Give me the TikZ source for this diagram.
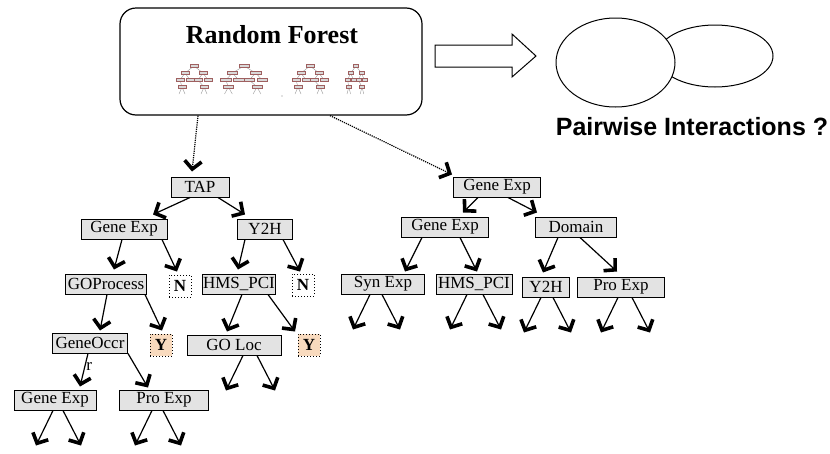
\documentclass[tikz,border=0pt]{standalone}
\usepackage{fontspec}
\newfontfamily\pairfont{Liberation Sans}
\newfontfamily\boxfont{Liberation Serif}
\usetikzlibrary{arrows.meta}
\definecolor{peach}{RGB}{248,218,190}
\tikzset{
    feat/.style ={rectangle, draw, fill=gray!22, line width=1pt, minimum height=20pt, inner sep=1pt, font=\boxfont\fontsize{17}{19}\selectfont},
    leafN/.style ={rectangle, draw, dotted, line width=1pt, minimum width=22pt, minimum height=22pt, inner sep=0pt, font=\boxfont\bfseries\fontsize{17}{19}\selectfont},
    leafY/.style ={leafN, fill=peach},
    branch/.style={line width=1.2pt, -{Straight Barb[length=8pt,width=17pt,line width=3.6pt]}},
    pick/.style={branch, densely dotted},
    mini/.style={gray!80, line width=.4pt},
    minibox/.style={fill=gray!30, draw=red!25!gray, line width=.4pt},
    minitree/.pic={
        \draw[mini] (0,0) -- (-9,7) (0,0) -- (9,7) (-9,7) -- (-14,14) (-9,7) -- (-4,14)
                    (9,7) -- (4,14) (9,7) -- (14,14) (-14,14) -- (-12,21) (4,14) -- (10,21)
                    (-12,21) -- (-15,28) (-12,21) -- (-9,28) (10,21) -- (7,28) (10,21) -- (13,28);
        \foreach \p in {(0,0),(-9,7),(9,7),(-14,14),(-4,14),(4,14),(14,14),(-12,21),(10,21)}
            \filldraw[minibox] \p +(-4,-1.4) rectangle +(4,1.4);
    }
}

\begin{document}
\begin{tikzpicture}[x=1pt,y=-1pt]
    \useasboundingbox (0,0) rectangle (830,453);
    % random forest box
    \node[draw, rounded corners=16pt, line width=1.2pt, minimum width=302pt, minimum height=107pt] (rf) at (271,61.5) {};
    \node[font=\boxfont\bfseries\fontsize{26}{28}\selectfont] (rftitle) at (272,35) {Random Forest};
    \pic at (194,66) {minitree};
    \pic[xscale=1.3] at (244,66) {minitree};
    \pic at (310,66) {minitree};
    \pic[xscale=.6] at (356,66) {minitree};
    \fill[gray] (282,96) circle (.6);
    % big arrow and interactions
    \draw[line width=1pt] (435,45) -- (512,45) -- (512,34) -- (536,56) -- (512,77) -- (512,67) -- (435,67) -- cycle;
    \draw[line width=1pt] (715,56) ellipse [x radius=58, y radius=31];
    \filldraw[fill=white, line width=1pt] (615.5,62.5) ellipse [x radius=59.5, y radius=44.5];
    \node[font=\pairfont\bfseries\fontsize{25}{28}\selectfont] (pair) at (692,127) {Pairwise Interactions ?};
    % first tree
    \node[feat, minimum width=58pt] (tap)   at (200,187) {TAP};
    \node[feat, minimum width=86pt] (ge1)   at (124,229) {Gene Exp};
    \node[feat, minimum width=55pt] (y2h1)  at (265,229) {Y2H};
    \node[feat, minimum width=81pt] (gop)   at (106,284) {GOProcess};
    \node[leafN]                    (n1)    at (180,286) {N};
    \node[feat, minimum width=70pt] (hms1)  at (239,284) {HMS\_PCI};
    \node[leafN]                    (n2)    at (303,285) {N};
    \node[feat, minimum width=75pt] (geo)   at (90,343)  {GeneOccr};
    \node[leafY]                    (y1)    at (161,345) {Y};
    \node[feat, minimum width=94pt] (goloc) at (234,345) {GO Loc};
    \node[leafY]                    (y2)    at (309,345) {Y};
    \node[feat, minimum width=82pt] (ge4)   at (55,400)  {Gene Exp};
    \node[feat, minimum width=89pt] (pro1)  at (164,400) {Pro Exp};
    % second tree
    \node[feat, minimum width=87pt] (ge2)   at (497,187) {Gene Exp};
    \node[feat, minimum width=87pt] (ge3)   at (445,227) {Gene Exp};
    \node[feat, minimum width=81pt] (dom)   at (576,227) {Domain};
    \node[feat, minimum width=83pt] (syn)   at (383,284) {Syn Exp};
    \node[feat, minimum width=76pt] (hms2)  at (474,284) {HMS\_PCI};
    \node[feat, minimum width=47pt] (y2h2)  at (546,287) {Y2H};
    \node[feat, minimum width=87pt] (pro2)  at (621,287) {Pro Exp};
    % picks from the forest
    \draw[pick] ([xshift=-73pt]rf.south) -- ([xshift=-8pt,yshift=5pt]tap.north);
    \draw[pick] ([xshift=59pt]rf.south) -- ([xshift=-45pt,yshift=2pt]ge2.north);
    % splits
    \foreach \s/\t/\a/\b/\c in {tap/ge1/-10/29/4, tap/y2h1/18/-20/4, ge1/gop/-2/8/4, ge1/n1/38/-3/3,
                                y2h1/hms1/-20/-1/4, y2h1/n2/18/-3/2, gop/geo/1/10/2, gop/y1/39/1/3,
                                hms1/goloc/3/-7/3, hms1/y2/29/-14/2, geo/pro1/38/-16/2,
                                ge2/ge3/-19/18/4, ge2/dom/11/-39/4, ge3/syn/-23/22/2, ge3/hms2/15/3/2,
                                dom/y2h2/-18/-3/4, dom/pro2/4/-4/5}
        \draw[branch] ([xshift=\a pt]\s.south) -- ([xshift=\b pt,yshift=\c pt]\t.north);
    \draw[branch] ([xshift=-2pt]geo.south) -- node[right, pos=.4, font=\boxfont\fontsize{17}{19}\selectfont, inner sep=1pt] {r} ([xshift=25pt,yshift=3pt]ge4.north);
    % open leaves
    \foreach \n/\a/\b in {ge4/-2/8, pro1/-12/-1, goloc/9/23, syn/-13/-1, hms2/-7/9, y2h2/-5/7, pro2/-3/11}{
        \draw[branch] ([xshift=\a pt]\n.south) -- ++(-17,35);
        \draw[branch] ([xshift=\b pt]\n.south) -- ++(18,35);
    }
\end{tikzpicture}
\end{document}
